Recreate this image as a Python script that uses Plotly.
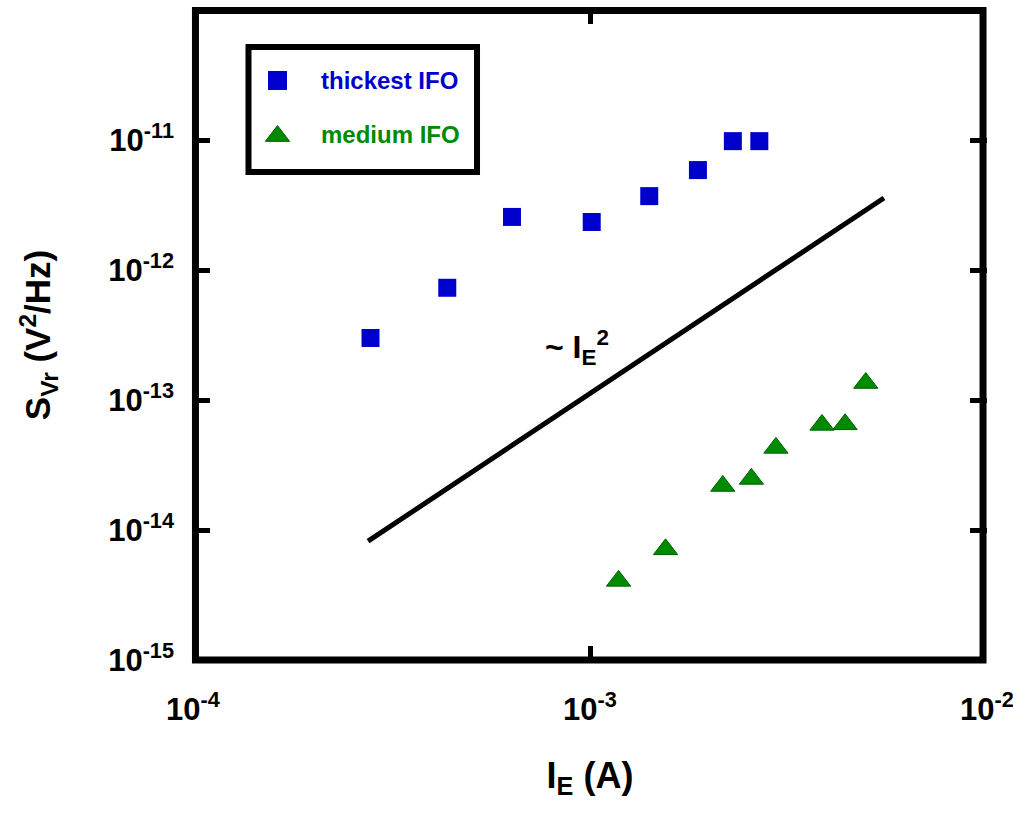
import plotly.graph_objects as go

# ---- data ----
thick_x = [2.8e-4, 4.37e-4, 6.36e-4, 1.01e-3, 1.41e-3, 1.87e-3, 2.29e-3, 2.67e-3]
thick_y = [3.0e-13, 7.3e-13, 2.56e-12, 2.34e-12, 3.7e-12, 5.87e-12, 9.8e-12, 9.8e-12]

med_x = [1.18e-3, 1.55e-3, 2.16e-3, 2.55e-3, 2.94e-3, 3.84e-3, 4.39e-3, 4.95e-3]
med_y = [4.06e-15, 7.1e-15, 2.18e-14, 2.47e-14, 4.28e-14, 6.43e-14, 6.5e-14, 1.35e-13]

guide_x = [2.76e-4, 5.5e-3]
guide_y = [8.2e-15, 3.58e-12]

x_tickvals = [1e-4, 1e-3, 1e-2]
x_ticktext = ["10<sup>-4</sup>", "10<sup>-3</sup>", "10<sup>-2</sup>"]
y_tickvals = [1e-15, 1e-14, 1e-13, 1e-12, 1e-11]
y_ticktext = ["10<sup>-15</sup>", "10<sup>-14</sup>", "10<sup>-13</sup>",
              "10<sup>-12</sup>", "10<sup>-11</sup>"]

series_names = ["thickest IFO", "medium IFO"]

BLUE = "#0000CC"
GREEN = "#008A00"
GREEN_EDGE = "#006000"
FONT = "Liberation Sans, Arial, sans-serif"

fig = go.Figure()

fig.add_trace(go.Scatter(
    x=guide_x, y=guide_y, mode="lines",
    line=dict(color="black", width=5), showlegend=False, hoverinfo="skip"))

fig.add_trace(go.Scatter(
    x=thick_x, y=thick_y, mode="markers", name=series_names[0],
    marker=dict(symbol="square", size=18, color=BLUE, line=dict(width=0)),
    showlegend=False))

fig.add_trace(go.Scatter(
    x=med_x, y=med_y, mode="markers", name=series_names[1],
    marker=dict(symbol="triangle-up", size=21, color=GREEN,
                line=dict(width=1, color=GREEN_EDGE)),
    showlegend=False))

# legend glyphs on an overlay axis (0..1 over the plot area)
fig.add_trace(go.Scatter(
    x=[0.1064], y=[0.8915], xaxis="x2", yaxis="y2", mode="markers",
    marker=dict(symbol="square", size=19, color=BLUE), showlegend=False,
    hoverinfo="skip"))
fig.add_trace(go.Scatter(
    x=[0.1064], y=[0.806], xaxis="x2", yaxis="y2", mode="markers",
    marker=dict(symbol="triangle-up", size=21, color=GREEN,
                line=dict(width=1, color=GREEN_EDGE)), showlegend=False,
    hoverinfo="skip"))

axis_common = dict(
    type="log", showgrid=False, zeroline=False, automargin=False,
    showline=False, mirror="ticks",
    ticks="inside", tickwidth=5, tickcolor="black",
    tickfont=dict(family=FONT, size=31, color="black", weight="bold"),
)

fig.update_layout(
    width=1013, height=818,
    margin=dict(l=193, r=26, t=10, b=158),
    paper_bgcolor="white", plot_bgcolor="white",
    xaxis=dict(range=[-4, -2], tickvals=x_tickvals, ticktext=x_ticktext,
               ticklabelstandoff=28, ticklen=14, ticklabeloverflow="allow",
               title=dict(text="I<sub>E</sub> (A)", standoff=36,
                          font=dict(family=FONT, size=36, color="black",
                                    weight="bold")),
               **axis_common),
    yaxis=dict(range=[-15, -10], tickvals=y_tickvals, ticktext=y_ticktext,
               ticklabelstandoff=18, ticklen=17, ticklabeloverflow="allow",
               title=dict(text="S<sub>Vr</sub> (V<sup>2</sup>/Hz)", standoff=46,
                          font=dict(family=FONT, size=35, color="black",
                                    weight="bold")),
               **axis_common),
    xaxis2=dict(overlaying="x", range=[0, 1], visible=False, fixedrange=True),
    yaxis2=dict(overlaying="y", range=[0, 1], visible=False, fixedrange=True),
    showlegend=False,
    shapes=[
        # plot frame
        dict(type="rect", xref="paper", yref="paper",
             x0=0.0031, x1=0.995, y0=0.0, y1=0.9992,
             line=dict(color="black", width=7), fillcolor="rgba(0,0,0,0)"),
        # legend box
        dict(type="rect", xref="paper", yref="paper",
             x0=0.0699, x1=0.3577, y0=0.7508, y1=0.943,
             line=dict(color="black", width=6), fillcolor="rgba(0,0,0,0)"),
    ],
    annotations=[
        dict(text="thickest IFO", xref="paper", yref="paper", x=0.159, y=0.8908,
             xanchor="left", yanchor="middle", showarrow=False,
             font=dict(family=FONT, size=24, color=BLUE, weight="bold")),
        dict(text="medium IFO", xref="paper", yref="paper", x=0.159, y=0.8085,
             xanchor="left", yanchor="middle", showarrow=False,
             font=dict(family=FONT, size=24, color=GREEN, weight="bold")),
        dict(text="~ I<sub>E</sub><sup>2</sup>", xref="paper", yref="paper",
             x=0.4408, y=0.4815, xanchor="left", yanchor="middle", showarrow=False,
             font=dict(family=FONT, size=32, color="black", weight="bold")),
    ],
)

fig.write_html("out.html")
